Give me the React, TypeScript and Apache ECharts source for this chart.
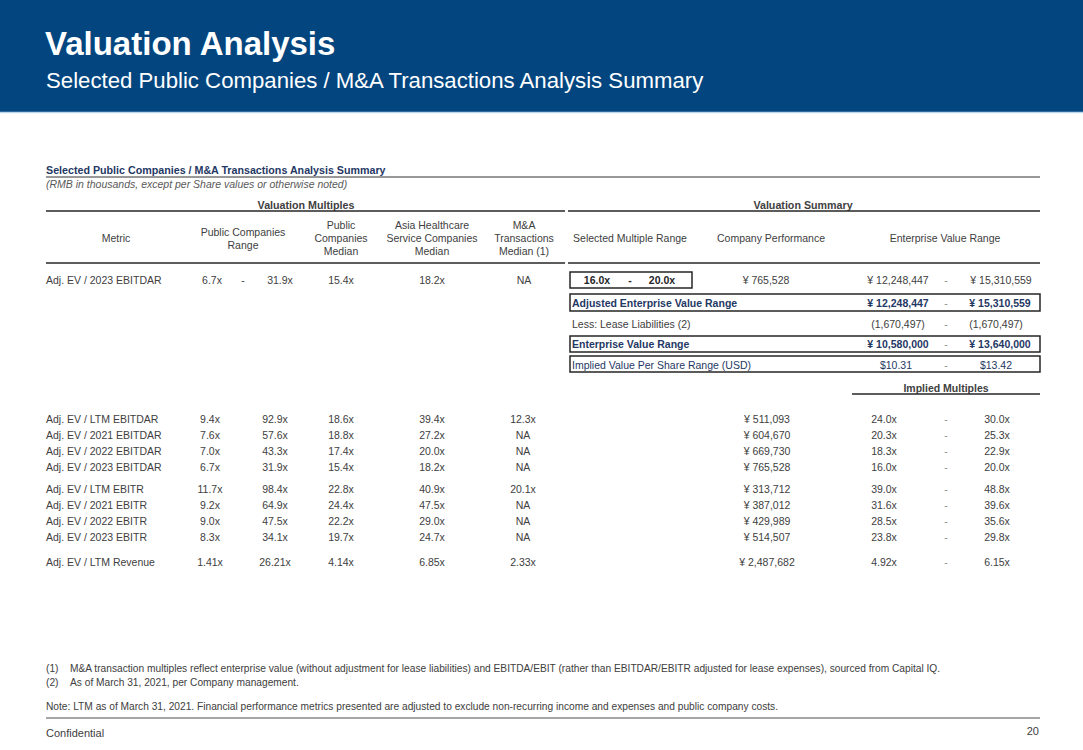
import React, { useEffect, useRef } from "react";
import * as echarts from "echarts";

// ---------- data ----------
const metrics = [
  "Adj. EV / LTM EBITDAR",
  "Adj. EV / 2021 EBITDAR",
  "Adj. EV / 2022 EBITDAR",
  "Adj. EV / 2023 EBITDAR",
  "Adj. EV / LTM EBITR",
  "Adj. EV / 2021 EBITR",
  "Adj. EV / 2022 EBITR",
  "Adj. EV / 2023 EBITR",
  "Adj. EV / LTM Revenue",
];
const decimals = [1, 1, 1, 1, 1, 1, 1, 1, 2];
const pcLow = [9.4, 7.6, 7.0, 6.7, 11.7, 9.2, 9.0, 8.3, 1.41];
const pcHigh = [92.9, 57.6, 43.3, 31.9, 98.4, 64.9, 47.5, 34.1, 26.21];
const pcMedian = [18.6, 18.8, 17.4, 15.4, 22.8, 24.4, 22.2, 19.7, 4.14];
const asiaMedian = [39.4, 27.2, 20.0, 18.2, 40.9, 47.5, 29.0, 24.7, 6.85];
const maMedian: (number | null)[] = [12.3, null, null, null, 20.1, null, null, null, 2.33];
const companyPerf = [511093, 604670, 669730, 765528, 313712, 387012, 429989, 514507, 2487682];
const impliedLow = [24.0, 20.3, 18.3, 16.0, 39.0, 31.6, 28.5, 23.8, 4.92];
const impliedHigh = [30.0, 25.3, 22.9, 20.0, 48.8, 39.6, 35.6, 29.8, 6.15];

const selectedIndex = 3;
const selectedRange = [16.0, 20.0];
const evRange = [12248447, 15310559];
const leaseLiabilities = [1670497, 1670497];
const enterpriseValue = [10580000, 13640000];
const perShare = [10.31, 13.42];

const footnotes = [
  ["(1)", "M&A transaction multiples reflect enterprise value (without adjustment for lease liabilities) and EBITDA/EBIT (rather than EBITDAR/EBITR adjusted for lease expenses), sourced from Capital IQ."],
  ["(2)", "As of March 31, 2021, per Company management."],
];
const noteText = "Note: LTM as of March 31, 2021. Financial performance metrics presented are adjusted to exclude non-recurring income and expenses and public company costs.";

// ---------- helpers ----------
const FONT = "Arial, Liberation Sans, Helvetica, sans-serif";
const GRAY = "#404040";
const BLUE = "#1F3864";
const DARK = "#262626";
const FS = 10.5;

const fx = (v: number, d: number) => v.toFixed(d) + "x";
const num = (v: number) => v.toLocaleString("en-US");
const yen = (v: number) => "¥ " + num(v);

export default function App() {
  const ref = useRef<HTMLDivElement>(null);
  useEffect(() => {
    const chart = echarts.init(ref.current!, null, { renderer: "svg" });
    const els: any[] = [];
    const txt = (text: string, x: number, y: number, o: any = {}) =>
      els.push({
        type: "text",
        x,
        y,
        silent: true,
        style: {
          text,
          fill: o.color || GRAY,
          fontSize: o.size || FS,
          fontWeight: o.bold ? "bold" : "normal",
          fontStyle: o.italic ? "italic" : "normal",
          fontFamily: FONT,
          textAlign: o.align || "left",
          textVerticalAlign: "middle",
          lineHeight: o.lh || undefined,
        },
      });
    const line = (x1: number, y1: number, x2: number, y2: number, color: string, w: number) =>
      els.push({ type: "line", silent: true, shape: { x1, y1, x2, y2 }, style: { stroke: color, lineWidth: w } });
    const box = (x: number, y: number, w: number, h: number) =>
      els.push({ type: "rect", silent: true, shape: { x, y, width: w, height: h }, style: { fill: "none", stroke: DARK, lineWidth: 1.5 } });

    // header band
    els.push({ type: "rect", silent: true, shape: { x: 0, y: 0, width: 1083, height: 112 }, style: { fill: "#03467F" } });
    line(0, 112.5, 1083, 112.5, "#BDD7EE", 1.5);
    txt("Valuation Analysis", 45, 43, { size: 33, bold: true, color: "#FFFFFF" });
    txt("Selected Public Companies / M&A Transactions Analysis Summary", 46, 80, { size: 22.2, color: "#FFFFFF" });

    // table title
    txt("Selected Public Companies / M&A Transactions Analysis Summary", 46, 170, { bold: true, color: BLUE, size: 10.7 });
    line(46, 177, 1040, 177, "#333333", 1);
    txt("(RMB in thousands, except per Share values or otherwise noted)", 46, 184, { size: 10.5, italic: true, color: "#595959" });

    txt("Valuation Multiples", 306, 205, { bold: true, align: "center", size: 10.7 });
    txt("Valuation Summary", 803, 205, { bold: true, align: "center", size: 10.7 });
    line(46, 211, 565, 211, DARK, 1.5);
    line(568, 211, 1040, 211, DARK, 1.5);

    const hy = 238;
    txt("Metric", 116, hy, { align: "center" });
    txt("Public Companies\nRange", 243, hy, { align: "center", lh: 13 });
    txt("Public\nCompanies\nMedian", 341, hy, { align: "center", lh: 13 });
    txt("Asia Healthcare\nService Companies\nMedian", 432, hy, { align: "center", lh: 13 });
    txt("M&A\nTransactions\nMedian (1)", 524, hy, { align: "center", lh: 13 });
    txt("Selected Multiple Range", 630, hy, { align: "center" });
    txt("Company Performance", 771, hy, { align: "center" });
    txt("Enterprise Value Range", 945, hy, { align: "center" });
    line(46, 263, 565, 263, DARK, 1.5);
    line(568, 263, 1040, 263, DARK, 1.5);

    // selected row
    const s = selectedIndex;
    const d = decimals[s];
    const ty = 280;
    txt(metrics[s], 46, ty);
    txt(fx(pcLow[s], d), 212, ty, { align: "center" });
    txt("-", 243, ty, { align: "center" });
    txt(fx(pcHigh[s], d), 280, ty, { align: "center" });
    txt(fx(pcMedian[s], d), 341, ty, { align: "center" });
    txt(fx(asiaMedian[s], d), 432, ty, { align: "center" });
    txt(maMedian[s] == null ? "NA" : fx(maMedian[s] as number, d), 524, ty, { align: "center" });
    box(570, 272, 122, 16);
    txt(fx(selectedRange[0], 1), 597, ty, { bold: true, align: "center", color: DARK });
    txt("-", 630, ty, { bold: true, align: "center", color: DARK });
    txt(fx(selectedRange[1], 1), 662, ty, { bold: true, align: "center", color: DARK });
    txt(yen(companyPerf[s]), 766, ty, { align: "center" });
    txt(yen(evRange[0]), 898, ty, { align: "center" });
    txt("-", 946, ty, { align: "center", color: "#8C8C8C" });
    txt(yen(evRange[1]), 1001, ty, { align: "center" });

    // summary boxes
    box(570, 294, 470, 17);
    txt("Adjusted Enterprise Value Range", 572, 302.5, { bold: true, color: BLUE });
    txt(yen(evRange[0]), 898, 302.5, { bold: true, color: BLUE, align: "center" });
    txt("-", 946, 302.5, { align: "center", color: "#8C8C8C" });
    txt(yen(evRange[1]), 1000, 302.5, { bold: true, color: BLUE, align: "center" });

    txt("Less: Lease Liabilities (2)", 572, 323.5);
    txt("(" + num(leaseLiabilities[0]) + ")", 898, 323.5, { align: "center" });
    txt("-", 946, 323.5, { align: "center", color: "#8C8C8C" });
    txt("(" + num(leaseLiabilities[1]) + ")", 996, 323.5, { align: "center" });

    box(570, 336, 470, 16);
    txt("Enterprise Value Range", 572, 344, { bold: true, color: BLUE });
    txt(yen(enterpriseValue[0]), 898, 344, { bold: true, color: BLUE, align: "center" });
    txt("-", 946, 344, { align: "center", color: "#8C8C8C" });
    txt(yen(enterpriseValue[1]), 1000, 344, { bold: true, color: BLUE, align: "center" });

    box(570, 356, 470, 16);
    txt("Implied Value Per Share Range (USD)", 572, 364.5, { color: BLUE });
    txt("$" + perShare[0].toFixed(2), 896, 364.5, { color: BLUE, align: "center" });
    txt("-", 946, 364.5, { align: "center", color: "#8C8C8C" });
    txt("$" + perShare[1].toFixed(2), 996, 364.5, { color: BLUE, align: "center" });

    txt("Implied Multiples", 946, 388, { bold: true, align: "center" });
    line(852, 394, 1040, 394, DARK, 1.5);

    // detail rows
    const rowY = [419, 435, 451, 467, 489, 505, 521, 537, 562];
    metrics.forEach((m, i) => {
      const y = rowY[i];
      const dd = decimals[i];
      txt(m, 46, y);
      txt(fx(pcLow[i], dd), 210, y, { align: "center" });
      txt(fx(pcHigh[i], dd), 275, y, { align: "center" });
      txt(fx(pcMedian[i], dd), 341, y, { align: "center" });
      txt(fx(asiaMedian[i], dd), 432, y, { align: "center" });
      txt(maMedian[i] == null ? "NA" : fx(maMedian[i] as number, dd), 523, y, { align: "center" });
      txt(yen(companyPerf[i]), 767, y, { align: "center" });
      txt(fx(impliedLow[i], dd), 884, y, { align: "center" });
      txt("-", 946, y, { align: "center", color: "#8C8C8C" });
      txt(fx(impliedHigh[i], dd), 997, y, { align: "center" });
    });

    // footnotes
    footnotes.forEach((f, i) => {
      const y = 668 + i * 14;
      txt(f[0], 46, y, { size: 10.2 });
      txt(f[1], 70, y, { size: 10.2 });
    });
    txt(noteText, 46, 706, { size: 10.2 });
    line(46, 718, 1040, 718, "#A6A6A6", 2);
    txt("Confidential", 46, 733, { size: 11 });
    txt("20", 1039, 731, { size: 11, align: "right" });

    chart.setOption({ animation: false, graphic: { elements: els } });
    return () => chart.dispose();
  }, []);
  return <div ref={ref} style={{ position: "absolute", left: 0, top: 0, width: 1083, height: 750, background: "#FFFFFF" }} />;
}
